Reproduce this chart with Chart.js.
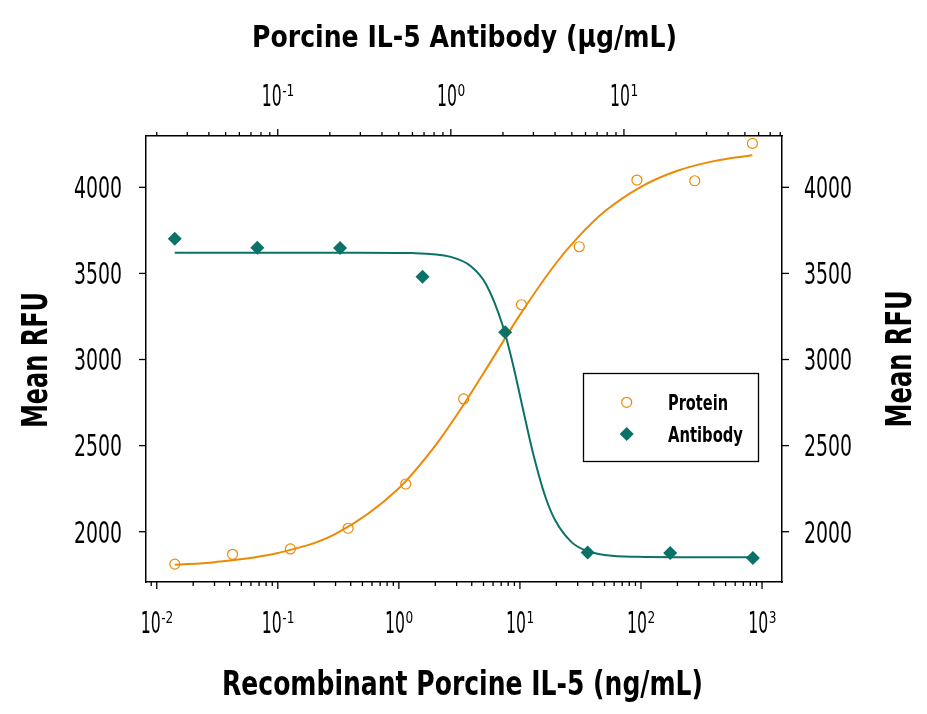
<!DOCTYPE html>
<html>
<head>
<meta charset="utf-8">
<title>Porcine IL-5</title>
<script src="https://cdn.jsdelivr.net/npm/chart.js@4.4.1/dist/chart.umd.min.js"></script>
<style>
  html, body { margin: 0; padding: 0; background: #fff; }
  canvas { display: block; }
</style>
</head>
<body>
<canvas id="myChart" width="927" height="714"></canvas>
<script>
// values
// protein : bottom axis (ng/mL)
const proteinX = [0.0141, 0.0423, 0.127, 0.381, 1.14, 3.43, 10.3, 30.9, 92.6, 278, 833];
const proteinY = [1812, 1869, 1900, 2020, 2277, 2771, 3318, 3655, 4042, 4038, 4255];
const proteinFitX = [0.0141, 0.03, 0.1, 0.3, 1, 2, 3, 5, 10, 20, 30, 50, 100, 200, 400, 833];
const proteinFitY = [1808, 1823, 1876, 1988, 2253, 2500, 2676, 2920, 3259, 3562, 3708, 3859, 4003, 4096, 4152, 4186];

// antibody : top axis (ug/mL)
const antibodyX = [0.0254, 0.0762, 0.229, 0.686, 2.06, 6.17, 18.5, 55.6];
const antibodyY = [3702, 3649, 3647, 3481, 3158, 1880, 1877, 1847];
const antibodyFitX = [0.0254, 0.1, 0.3, 0.6, 1.0, 1.3, 1.6, 2.0, 2.3, 2.6, 3.0, 3.5, 4.0, 5.0, 6.0, 8, 12, 20, 55.6];
const antibodyFitY = [3620, 3620, 3620, 3618, 3596, 3543, 3436, 3193, 2960, 2720, 2447, 2209, 2068, 1938, 1891, 1863, 1854, 1852, 1852];

// axes
const xMajorTicks = [0.01, 0.1, 1, 10, 100, 1000];
const xTickExp = ["-2", "-1", "0", "1", "2", "3"];
const x2MajorTicks = [0.1, 1, 10];
const x2TickExp = ["-1", "0", "1"];
const yTicks = [2000, 2500, 3000, 3500, 4000];

const ORANGE = "#ec8a06";
const TEAL = "#0b7268";
const FONT = "'Liberation Sans Narrow', 'DejaVu Sans Condensed', 'Liberation Sans', sans-serif";

const pts = (xs, ys) => xs.map((x, i) => ({ x: x, y: ys[i] }));

// 1..9 x 10^n between min and max, majors flagged
const logTicks = (min, max) => {
  const out = [];
  for (let e = Math.floor(Math.log10(min)); e <= Math.floor(Math.log10(max)); e++) {
    for (let k = 1; k <= 9; k++) {
      const v = parseFloat((k * Math.pow(10, e)).toPrecision(6));
      if (v >= min && v <= max) out.push({ value: v, major: k === 1 });
    }
  }
  return out;
};

// draw text squeezed to a given width
function fitText(ctx, text, x, y, font, width, align, rot) {
  ctx.save();
  ctx.font = font;
  const w = ctx.measureText(text).width;
  ctx.translate(x, y);
  if (rot) ctx.rotate(rot);
  ctx.scale(width ? width / w : 1, 1);
  ctx.textAlign = align || "center";
  ctx.textBaseline = "alphabetic";
  ctx.fillText(text, 0, 0);
  ctx.restore();
}

function line(ctx, x1, y1, x2, y2) {
  ctx.beginPath();
  ctx.moveTo(x1, y1);
  ctx.lineTo(x2, y2);
  ctx.stroke();
}

// 10 with superscript exponent, centered on px
function powerLabel(ctx, exp, px, base) {
  ctx.save();
  ctx.font = "30px " + FONT;
  const sx = 20 / ctx.measureText("10").width;
  const w10 = 20;
  ctx.font = "15px " + FONT;
  const ex = 0.9;
  const wExp = ctx.measureText(exp).width * ex;
  const left = px - (w10 + wExp) / 2;
  ctx.textAlign = "left";
  ctx.textBaseline = "alphabetic";
  ctx.font = "30px " + FONT;
  ctx.save(); ctx.translate(left, base); ctx.scale(sx, 1); ctx.fillText("10", 0, 0); ctx.restore();
  ctx.font = "15px " + FONT;
  ctx.save(); ctx.translate(left + w10 + 0.5, base - 10.5); ctx.scale(ex, 1); ctx.fillText(exp, 0, 0); ctx.restore();
  ctx.restore();
}

const axesPlugin = {
  id: "axesPlugin",
  afterDraw(chart) {
    const ctx = chart.ctx;
    const area = chart.chartArea;
    const { x, x2, y } = chart.scales;
    ctx.save();
    ctx.strokeStyle = "#000";
    ctx.fillStyle = "#000";
    ctx.lineWidth = 1.3;

    // tick marks
    x.ticks.forEach(t => {
      const p = x.getPixelForValue(t.value);
      line(ctx, p, area.bottom, p, area.bottom + (t.major ? 7 : 4));
    });
    x2.ticks.forEach(t => {
      const p = x2.getPixelForValue(t.value);
      line(ctx, p, area.top, p, area.top - (t.major ? 7 : 4));
    });
    yTicks.forEach(v => {
      const p = y.getPixelForValue(v);
      line(ctx, area.left - 7, p, area.left, p);
      line(ctx, area.right, p, area.right + 7, p);
    });

    // tick labels
    xMajorTicks.forEach((v, i) => powerLabel(ctx, xTickExp[i], x.getPixelForValue(v), area.bottom + 51));
    x2MajorTicks.forEach((v, i) => powerLabel(ctx, x2TickExp[i], x2.getPixelForValue(v), area.top - 30));
    yTicks.forEach(v => {
      const p = y.getPixelForValue(v) + 10.8;
      fitText(ctx, String(v), area.left - 24, p, "30px " + FONT, 48, "right");
      fitText(ctx, String(v), area.right + 22, p, "30px " + FONT, 48, "left");
    });

    // axis titles
    fitText(ctx, "Porcine IL-5 Antibody (\u03bcg/mL)", 464.5, 47, "bold 31px " + FONT, 425);
    fitText(ctx, "Recombinant Porcine IL-5 (ng/mL)", 462.5, 695, "bold 34px " + FONT, 481);
    fitText(ctx, "Mean RFU", 47, 360, "bold 35px " + FONT, 136, "center", -Math.PI / 2);
    fitText(ctx, "Mean RFU", 911, 359, "bold 35px " + FONT, 137, "center", -Math.PI / 2);

    // legend
    ctx.lineWidth = 1.3;
    ctx.strokeRect(583.5, 373.5, 175, 88);
    ctx.strokeStyle = ORANGE;
    ctx.lineWidth = 1.2;
    ctx.beginPath();
    ctx.arc(626.7, 402.3, 5, 0, Math.PI * 2);
    ctx.stroke();
    ctx.fillStyle = TEAL;
    ctx.beginPath();
    ctx.moveTo(619.7, 434); ctx.lineTo(626.7, 427); ctx.lineTo(633.7, 434); ctx.lineTo(626.7, 441);
    ctx.closePath();
    ctx.fill();
    ctx.fillStyle = "#000";
    fitText(ctx, "Protein", 668, 409.5, "bold 20.5px " + FONT, 60, "left");
    fitText(ctx, "Antibody", 668, 441.5, "bold 20.5px " + FONT, 75, "left");
    ctx.restore();
  }
};

const fixSize = (size, horizontal) => scale => {
  if (horizontal) scale.height = size; else scale.width = size;
};

const axisBase = {
  grid: { display: false },
  ticks: { display: false },
  border: { display: true, color: "#000", width: 1.5 }
};

const X_MIN = 0.00815, X_MAX = 1462;
const X2_MIN = 0.01733, X2_MAX = 81.9;
const Y_MIN = 1708, Y_MAX = 4298;

const ctx = document.getElementById("myChart").getContext("2d");

const chart = new Chart(ctx, {
  type: "scatter",
  data: {
    datasets: [
      {
        label: "Protein",
        data: pts(proteinX, proteinY),
        xAxisID: "x", yAxisID: "y",
        pointStyle: "circle", pointRadius: 5, pointBorderWidth: 1.2,
        borderColor: ORANGE, backgroundColor: "rgba(0,0,0,0)",
        order: 0
      },
      {
        label: "Antibody",
        data: pts(antibodyX, antibodyY),
        xAxisID: "x2", yAxisID: "y",
        pointStyle: "rectRot", pointRadius: 7, pointBorderWidth: 0,
        borderColor: TEAL, backgroundColor: TEAL,
        order: 0
      },
      {
        label: "Protein fit",
        data: pts(proteinFitX, proteinFitY),
        xAxisID: "x", yAxisID: "y",
        showLine: true, pointRadius: 0, borderWidth: 2,
        borderColor: ORANGE, cubicInterpolationMode: "monotone",
        order: 1
      },
      {
        label: "Antibody fit",
        data: pts(antibodyFitX, antibodyFitY),
        xAxisID: "x2", yAxisID: "y",
        showLine: true, pointRadius: 0, borderWidth: 2,
        borderColor: TEAL, cubicInterpolationMode: "monotone",
        order: 1
      }
    ]
  },
  options: {
    responsive: false,
    animation: false,
    devicePixelRatio: 1,
    layout: { padding: 0 },
    plugins: { legend: { display: false }, tooltip: { enabled: false } },
    scales: {
      x: Object.assign({}, axisBase, {
        type: "logarithmic", position: "bottom", min: X_MIN, max: X_MAX,
        afterBuildTicks: s => { s.ticks = logTicks(X_MIN, X_MAX); },
        afterFit: fixSize(132, true)
      }),
      x2: Object.assign({}, axisBase, {
        type: "logarithmic", position: "top", min: X2_MIN, max: X2_MAX,
        afterBuildTicks: s => { s.ticks = logTicks(X2_MIN, X2_MAX); },
        afterFit: fixSize(136, true)
      }),
      y: Object.assign({}, axisBase, {
        type: "linear", position: "left", min: Y_MIN, max: Y_MAX,
        afterBuildTicks: s => { s.ticks = yTicks.map(v => ({ value: v })); },
        afterFit: fixSize(146, false)
      }),
      y2: Object.assign({}, axisBase, {
        type: "linear", position: "right", min: Y_MIN, max: Y_MAX,
        afterBuildTicks: s => { s.ticks = yTicks.map(v => ({ value: v })); },
        afterFit: fixSize(145, false)
      })
    }
  },
  plugins: [axesPlugin]
});
</script>
</body>
</html>
